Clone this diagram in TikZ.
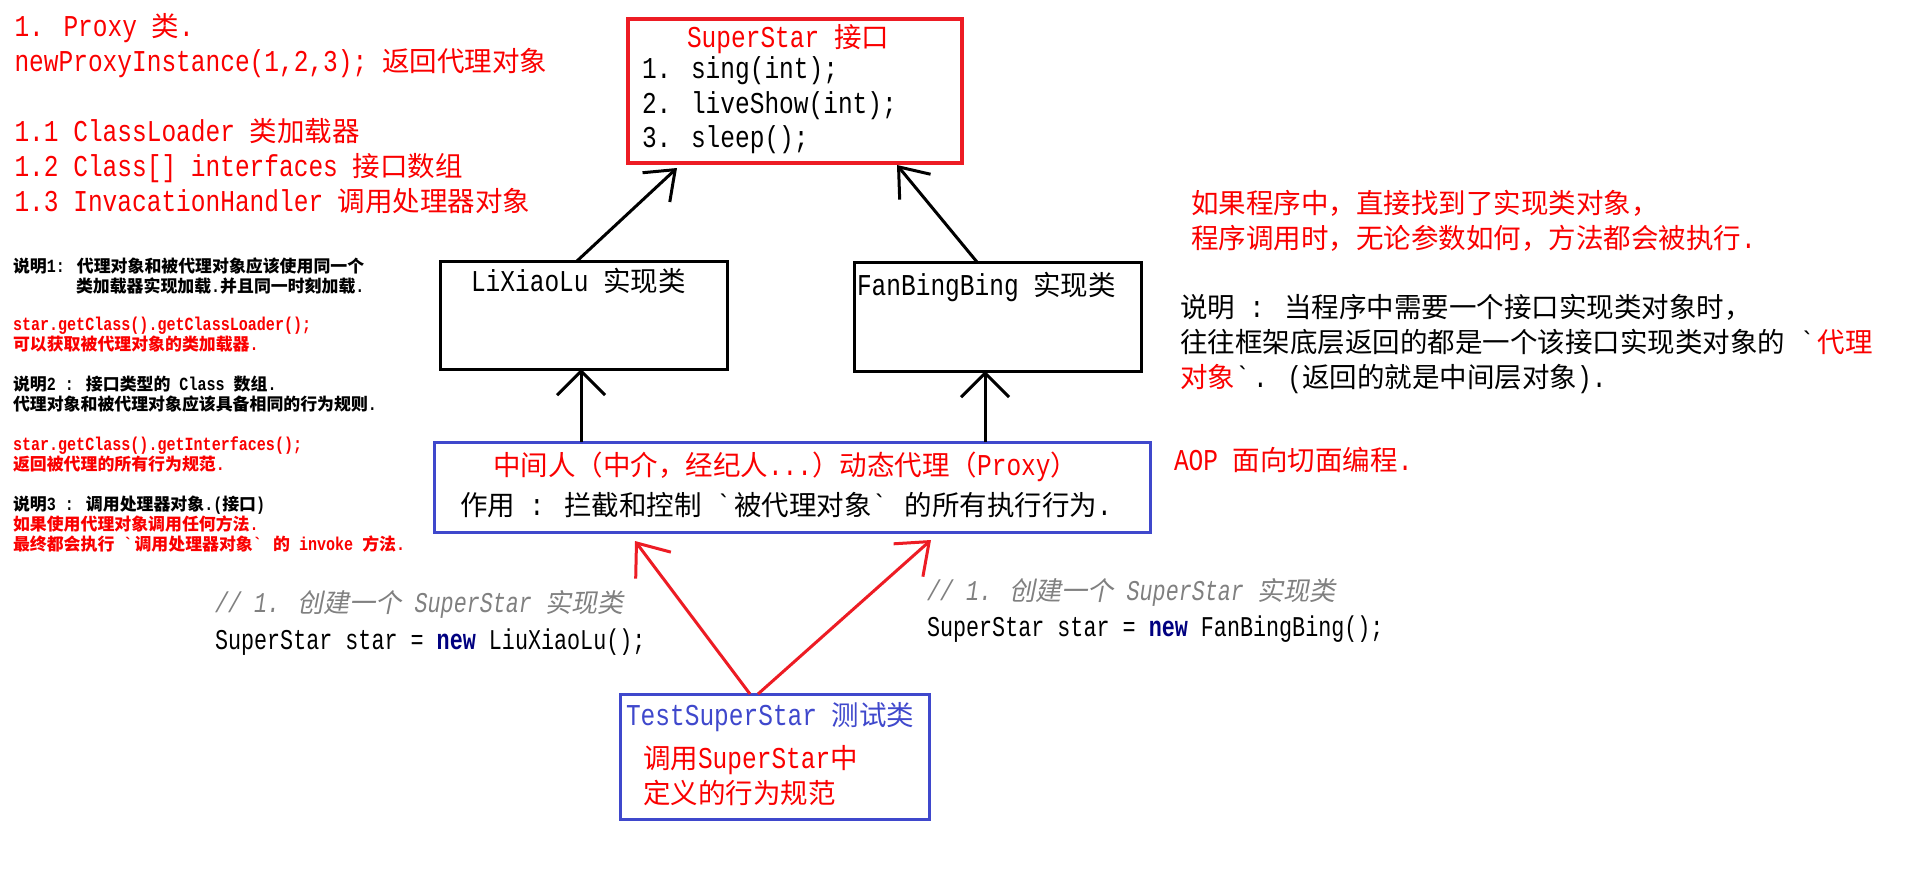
\documentclass[tikz,border=0pt]{standalone}
\usepackage{fontspec}
\setmainfont{Liberation Mono}[Scale=1.1,FakeStretch=0.81]
\newfontfamily\codefont{Liberation Mono}[Scale=1.1,FakeStretch=0.76]
\newfontfamily\zhfont{Noto Sans CJK SC}
\newfontfamily\zhitfont{Noto Sans CJK SC}[FakeSlant=0.2]
\usetikzlibrary{arrows.meta}
% automatic switch to the CJK font for CJK characters
\XeTeXinterchartokenstate=1
\chardef\zhcls=7
\newcount\zhc
\def\zhrange#1#2{\zhc=#1\relax\loop\XeTeXcharclass\zhc=\zhcls\ifnum\zhc<#2\relax\advance\zhc by 1\repeat}
\zhrange{"4E00}{"9FFF}
\zhrange{"3000}{"303F}
\zhrange{"FF00}{"FFEF}
\def\zhsel{\zhfont}
\XeTeXinterchartoks 0 \zhcls = {\begingroup\zhsel}
\XeTeXinterchartoks 4095 \zhcls = {\begingroup\zhsel}
\XeTeXinterchartoks \zhcls 0 = {\endgroup}
\XeTeXinterchartoks \zhcls 4095 = {\endgroup}
\newcommand\bq{\textasciigrave}
\definecolor{pred}{RGB}{237,28,36}
\definecolor{pblue}{RGB}{63,72,204}
\definecolor{tred}{RGB}{250,0,0}
\definecolor{tblue}{RGB}{63,72,204}
\definecolor{navy}{RGB}{0,0,128}
\definecolor{cgray}{RGB}{128,128,128}
\tikzset{
  t/.style={anchor=base west, inner sep=0pt, outer sep=0pt},
  big/.style={t, font=\fontsize{27.5}{33}\selectfont},
  small/.style={t, font=\fontsize{16.9}{20}\selectfont\bfseries},
  code/.style={t, font=\fontsize{26}{30}\selectfont\codefont},
  cmt/.style={t, text=cgray, font=\fontsize{26}{30}\selectfont\codefont\itshape\let\zhsel\zhitfont},
  frame/.style={draw, line width=3pt, inner sep=0pt, outer sep=0pt},
  varr/.style={line width=3pt, -{Straight Barb[length=24pt,width=48pt]}},
  darr/.style={line width=3pt, -{Straight Barb[length=26pt,width=40pt]}},
  rarr/.style={draw=pred, line width=3pt, -{Straight Barb[length=28pt,width=44pt]}}
}
\begin{document}
\begin{tikzpicture}[x=1pt,y=-1pt]
\path[use as bounding box, fill=white] (0,0) rectangle (1914,873);

% boxes
\node[frame, draw=pred, line width=3.5pt, minimum width=334pt, minimum height=144pt] (ss) at (795,91) {};
\node[frame, minimum width=287pt, minimum height=108pt] (lxl) at (583.5,315) {};
\node[frame, minimum width=287pt, minimum height=109pt] (fbb) at (997.5,316.5) {};
\node[frame, draw=pblue, minimum width=716pt, minimum height=90pt] (proxy) at (792,487) {};
\node[frame, draw=pblue, minimum width=309pt, minimum height=125pt] (test) at (774.5,756.5) {};

% connectors
\draw[darr] ([xshift=-6.5pt]lxl.north) -- ([xshift=-118pt,yshift=-5pt]ss.south);
\draw[darr] ([xshift=-20.5pt]fbb.north) -- ([xshift=102pt,yshift=-2pt]ss.south);
\draw[varr] ([xshift=-211pt]proxy.north) -- ([xshift=-2.5pt]lxl.south);
\draw[varr] ([xshift=193pt]proxy.north) -- ([xshift=-12.5pt]fbb.south);
\draw[rarr] ([xshift=-24.5pt]test.north) -- ([xshift=-157pt,yshift=-9pt]proxy.south);
\draw[rarr] ([xshift=-16.5pt]test.north) -- ([xshift=139pt,yshift=-8pt]proxy.south);

% box texts
\node[big, text=tred] (ss1) at (687,47) {SuperStar 接口};
\node[big] (ss2) at (642,78) {1. sing(int);};
\node[big] (ss3) at (642,113) {2. liveShow(int);};
\node[big] (ss4) at (642,147) {3. sleep();};
\node[big] (lxlt) at (471,291) {LiXiaoLu 实现类};
\node[big] (fbbt) at (857,295) {FanBingBing 实现类};
\node[big, text=tred] (px1) at (493,475) {中间人（中介，经纪人...）动态代理（Proxy）};
\node[big] (px2) at (460,515) {作用 : 拦截和控制 \bq 被代理对象\bq{} 的所有执行行为.};
\node[big, text=tblue] (tt1) at (626,725) {TestSuperStar 测试类};
\node[big, text=tred] (tt2) at (643,768) {调用SuperStar中};
\node[big, text=tred] (tt3) at (643,803) {定义的行为规范};

% top left notes
\node[big, text=tred] (tl1) at (14.5,36) {1. Proxy 类.};
\node[big, text=tred] (tl2) at (14.5,71) {newProxyInstance(1,2,3); 返回代理对象};
\node[big, text=tred] (tl3) at (14.5,141) {1.1 ClassLoader 类加载器};
\node[big, text=tred] (tl4) at (14.5,176) {1.2 Class[] interfaces 接口数组};
\node[big, text=tred] (tl5) at (14.5,211) {1.3 InvacationHandler 调用处理器对象};

% left small notes
\node[small] (s1) at (13,272) {说明1: 代理对象和被代理对象应该使用同一个};
\node[small] (s2) at (76,292) {类加载器实现加载.并且同一时刻加载.};
\node[small, text=tred] (s3) at (13,330) {star.getClass().getClassLoader();};
\node[small, text=tred] (s4) at (13,350) {可以获取被代理对象的类加载器.};
\node[small] (s5) at (13,390) {说明2 : 接口类型的 Class 数组.};
\node[small] (s6) at (13,410) {代理对象和被代理对象应该具备相同的行为规则.};
\node[small, text=tred] (s7) at (13,450) {star.getClass().getInterfaces();};
\node[small, text=tred] (s8) at (13,470) {返回被代理的所有行为规范.};
\node[small] (s9) at (13,510) {说明3 : 调用处理器对象.(接口)};
\node[small, text=tred] (s10) at (13,530) {如果使用代理对象调用任何方法.};
\node[small, text=tred] (s11) at (13,550) {最终都会执行 \bq 调用处理器对象\bq{} 的 invoke 方法.};

% right notes
\node[big, text=tred] (r1) at (1191,213) {如果程序中，直接找到了实现类对象，};
\node[big, text=tred] (r2) at (1191,248) {程序调用时，无论参数如何，方法都会被执行.};
\node[big] (r3) at (1180,317) {说明 : 当程序中需要一个接口实现类对象时，};
\node[big] (r4) at (1180,352) {往往框架底层返回的都是一个该接口实现类对象的 \bq\textcolor{tred}{代理}};
\node[big] (r5) at (1180,387) {\textcolor{tred}{对象}\bq. (返回的就是中间层对象).};
\node[big, text=tred] (aop) at (1174,470) {AOP 面向切面编程.};

% code snippets
\node[cmt] (c1) at (215,612) {// 1. 创建一个 SuperStar 实现类};
\node[code] (c2) at (215,649) {SuperStar star = \textcolor{navy}{\bfseries new} LiuXiaoLu();};
\node[cmt] (c3) at (927,600) {// 1. 创建一个 SuperStar 实现类};
\node[code] (c4) at (927,636) {SuperStar star = \textcolor{navy}{\bfseries new} FanBingBing();};
\end{tikzpicture}
\end{document}
